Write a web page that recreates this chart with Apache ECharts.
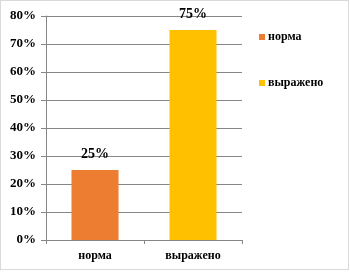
<!DOCTYPE html>
<html>
<head>
    <meta charset="utf-8">
    <title>ECharts</title>
    <script src="https://cdn.jsdelivr.net/npm/echarts@6/dist/echarts.min.js"></script>
    <style>
        body { margin: 0; background: #fff; }
        #main { position: absolute; left: 0; top: 0; width: 347px; height: 268px; border: 1px solid #d9d9d9; }
    </style>
</head>
<body>
    <div id="main"></div>
    <script>
        var categories = ['норма', 'выражено']
        var seriesNames = ['норма', 'выражено']
        var normaValues = [25, '-']
        var vyrazhenoValues = ['-', 75]
        var colors = ['#ED7D31', '#FFC000']

        var font = 'Liberation Serif'
        var myChart = echarts.init(document.querySelector('#main'))

        var makeSeries = function(name, values, color) {
            return {
                name: name,
                type: 'bar',
                stack: 'one',
                barWidth: '48%',
                data: values,
                itemStyle: { color: color },
                label: {
                    show: true,
                    position: 'top',
                    distance: 9,
                    formatter: '{c}%',
                    fontFamily: font,
                    fontWeight: 'bold',
                    fontSize: 14,
                    color: '#000'
                }
            }
        }

        var option = {
            animation: false,
            grid: { left: 45, right: 106, top: 15, bottom: 29 },
            legend: {
                orient: 'vertical',
                left: 253,
                top: 25,
                icon: 'rect',
                itemWidth: 6,
                itemHeight: 6,
                itemGap: 34,
                data: seriesNames,
                textStyle: { fontFamily: font, fontWeight: 'bold', fontSize: 12, color: '#000', padding: [0, 0, 0, -2] }
            },
            xAxis: {
                type: 'category',
                data: categories,
                axisLine: { lineStyle: { color: '#868686' } },
                axisTick: { show: true, length: 4, lineStyle: { color: '#868686' } },
                axisLabel: { fontFamily: font, fontWeight: 'bold', fontSize: 12, color: '#000', margin: 10 }
            },
            yAxis: {
                type: 'value',
                min: 0,
                max: 80,
                interval: 10,
                axisLine: { show: true, lineStyle: { color: '#868686' } },
                axisTick: { show: true, length: 5, lineStyle: { color: '#868686' } },
                splitLine: { lineStyle: { color: '#868686' } },
                axisLabel: { formatter: '{value}%', fontFamily: font, fontWeight: 'bold', fontSize: 13, color: '#000', margin: 10 }
            },
            series: [
                makeSeries(seriesNames[0], normaValues, colors[0]),
                makeSeries(seriesNames[1], vyrazhenoValues, colors[1])
            ]
        }
        myChart.setOption(option)
    </script>
</body>
</html>
